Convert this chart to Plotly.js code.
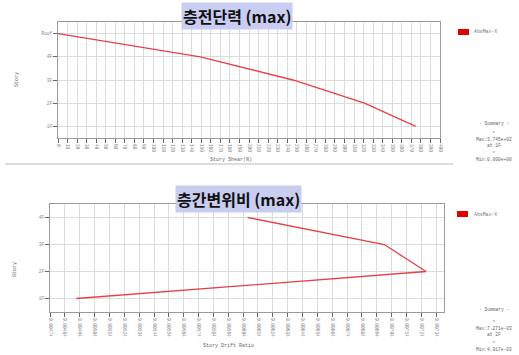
<!DOCTYPE html>
<html><head><meta charset="utf-8">
<script src="https://cdn.plot.ly/plotly-3.0.1.min.js"></script>
<style>html,body{margin:0;padding:0;background:#fff;}#c{width:519px;height:355px;}</style>
</head><body><div id="c"></div>
<script>
// Top chart: story shear
const shearStories = ['1F','2F','3F','4F','Roof'];
const shearLevels = [1,2,3,4,5];
const shearValues = [374.5, 321, 246, 149, 0];
// Bottom chart: story drift ratio
const driftStories = ['1F','2F','3F','4F'];
const driftLevels = [1,2,3,4];
const driftValues = [0.004917, 0.007271, 0.00699, 0.00607];
const seriesName = 'AbsMax-X';
const shearSummary = ['- Summary -','*<br>Max:3.745e+02<br>at 1F','*<br>Min:0.000e+00'];
const driftSummary = ['- Summary -','*<br>Max:7.271e-03<br>at 2F','*<br>Min:4.917e-03'];

const W=519,H=355;
const px = x=>x/W, py = y=>1-y/H;
const mono = 'Liberation Mono, DejaVu Sans Mono, monospace';
const tickFont = {family: mono, size: 4.5, color:'#888'};
const lineColor = '#e8404a';

const shearTicks = []; for (let v=0; v<=400; v+=10) shearTicks.push(v);
const driftTicks = []; for (let k=0; k<=26; k++) driftTicks.push(+(0.00474 + k*0.0001).toFixed(5));

const traces = [
  {x: shearValues, y: shearLevels, type:'scatter', mode:'lines', line:{color:lineColor, width:1.3}, xaxis:'x', yaxis:'y', showlegend:false, name:seriesName},
  {x: driftValues, y: driftLevels, type:'scatter', mode:'lines', line:{color:lineColor, width:1.3}, xaxis:'x2', yaxis:'y2', showlegend:false, name:seriesName}
];

const axCommon = {showline:true, mirror:true, linecolor:'#9a9a9a', linewidth:1, gridcolor:'#dcdcdc', gridwidth:1, zeroline:false, ticks:'outside', ticklen:4, tickcolor:'#666', tickfont:tickFont, fixedrange:true};

const annotations = [];
function ann(text,x,y,opt){annotations.push(Object.assign({text:text, x:px(x), y:py(y), xref:'paper', yref:'paper', showarrow:false, xanchor:'center', yanchor:'middle', font:{family:mono, size:5, color:'#666'}}, opt||{}));}

const titleFont = {family:'Noto Sans CJK KR', size:16, color:'#111', weight:'bold'};
// titles
ann('층전단력 (max)', 237, 16, {font:titleFont, bgcolor:'#cacdf2', borderpad:1});
ann('층간변위비 (max)', 238, 199, {font:titleFont, bgcolor:'#cacdf2', borderpad:1});
// axis titles
ann('Story', 17, 80, {textangle:-90});
ann('Story Shear(N)', 231, 160);
ann('Story', 15, 270, {textangle:-90});
ann('Story Drift Ratio', 228, 346);
// legends
ann(seriesName, 472, 32, {xanchor:'left', font:{family:mono, size:4.8, color:'#777'}});
ann(seriesName, 472, 214, {xanchor:'left', font:{family:mono, size:4.8, color:'#777'}});
// summaries
const sumFont = {family:mono, size:4.6, color:'#666'};
const sumY1 = [123,140,156.5];
shearSummary.forEach((t,i)=>ann(t, 494, sumY1[i], {font:sumFont}));
const sumY2 = [309,328,346.5];
driftSummary.forEach((t,i)=>ann(t, 494, sumY2[i], {font:sumFont}));

const shapes = [
  {type:'rect', xref:'paper', yref:'paper', x0:px(458), x1:px(469), y0:py(29), y1:py(35), fillcolor:'#e00000', line:{width:0}},
  {type:'rect', xref:'paper', yref:'paper', x0:px(457), x1:px(468), y0:py(211), y1:py(217), fillcolor:'#e00000', line:{width:0}},
  {type:'line', xref:'paper', yref:'paper', x0:px(5), x1:px(453), y0:py(164), y1:py(164), line:{color:'#b8b8b8', width:1}}
];

const layout = {
  width:W, height:H, margin:{l:0,r:0,t:0,b:0}, paper_bgcolor:'#fff', plot_bgcolor:'#fff', showlegend:false,
  xaxis: Object.assign({}, axCommon, {domain:[px(58),px(440)], range:[0,400], tickvals:shearTicks, ticktext:shearTicks.map(v=>String(v)), tickangle:90, anchor:'y'}),
  yaxis: Object.assign({}, axCommon, {domain:[py(138),py(22)], range:[0.5,5.5], tickvals:shearLevels, ticktext:shearStories, anchor:'x'}),
  xaxis2: Object.assign({}, axCommon, {domain:[px(50),px(444)], range:[0.00474, 0.007392], tickvals:driftTicks, ticktext:driftTicks.map(v=>v.toFixed(5)), tickangle:90, anchor:'y2'}),
  yaxis2: Object.assign({}, axCommon, {domain:[py(312),py(204)], range:[0.5,4.5], tickvals:driftLevels, ticktext:driftStories, anchor:'x2'}),
  annotations: annotations, shapes: shapes
};
Plotly.newPlot('c', traces, layout, {displayModeBar:false, staticPlot:true});
</script></body></html>
